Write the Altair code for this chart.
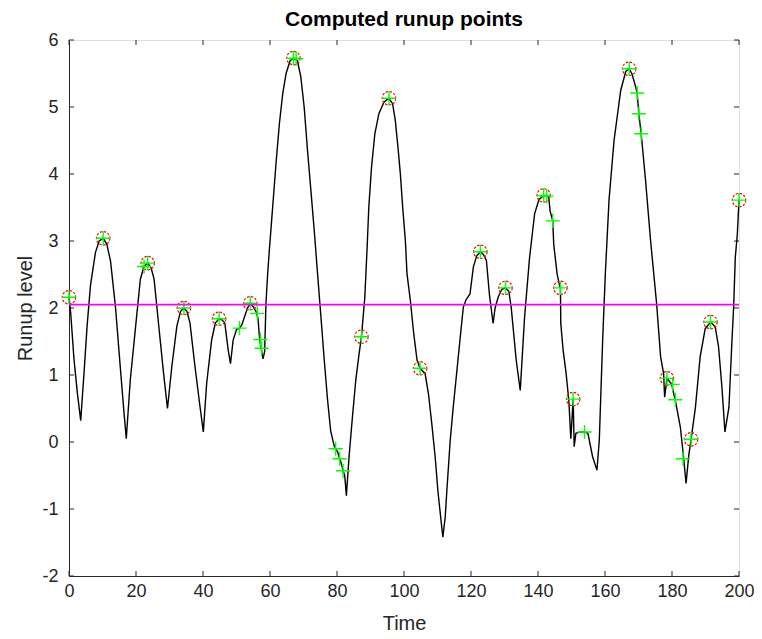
import altair as alt
import pandas as pd

# Black time series (Time, Runup level)
line_t = [0.0, 0.5, 1.5, 2.5, 3.5, 4.5, 5.4, 6.4, 7.9, 9.0, 10.2, 11.3, 12.4, 13.9, 15.4, 16.3, 17.1,
          18.3, 19.8, 21.3, 22.4, 23.5, 24.5, 25.4, 26.7, 28.2, 29.4, 30.7, 32.2, 33.3, 34.3, 35.2,
          36.1, 37.6, 39.1, 40.1, 41.1, 42.6, 43.7, 44.8, 45.7, 46.5, 47.5, 48.2, 49.0, 50.0, 50.9,
          51.6, 52.4, 53.3, 54.1, 55.0, 55.9, 56.4, 56.9, 57.4, 57.9, 58.4, 58.8, 59.3, 59.8, 60.8,
          61.8, 62.8, 63.8, 64.8, 66.0, 67.0, 68.2, 69.2, 70.2, 71.2, 72.2, 73.2, 74.2, 75.2, 76.2,
          77.2, 78.1, 79.1, 79.6, 80.2, 80.8, 81.3, 81.8, 82.3, 82.8, 83.6, 84.6, 85.6, 86.6, 87.3,
          88.3, 89.0, 89.5, 90.3, 91.3, 92.5, 94.0, 95.5, 96.6, 97.4, 98.2, 98.9, 99.6, 100.4, 100.9,
          101.9, 102.9, 103.9, 104.8, 106.3, 107.3, 108.3, 109.3, 110.1, 110.9, 111.6, 112.3, 112.8,
          113.8, 114.7, 115.7, 116.7, 117.7, 118.5, 119.7, 120.7, 121.7, 122.8, 123.7, 124.6, 125.5,
          126.6, 127.2, 128.1, 129.2, 130.3, 131.3, 132.0, 133.5, 134.7, 136.0, 137.5, 139.0, 140.3,
          141.7, 143.2, 143.6, 144.4, 144.7, 145.7, 146.5, 146.7, 146.8, 147.5, 148.4, 149.2, 149.8,
          150.5, 150.8, 151.3, 152.5, 154.0, 154.9, 156.3, 157.6, 158.3, 159.3, 160.1, 161.2, 162.7,
          164.7, 166.2, 167.2, 168.0, 168.6, 169.6, 170.1, 170.8, 172.1, 173.6, 175.4, 176.6, 177.5,
          177.8, 178.5, 179.3, 180.0, 180.6, 181.0, 182.5, 183.5, 184.2, 185.0, 185.7, 187.0, 188.4,
          189.9, 191.5, 192.9, 193.9, 194.9, 195.8, 197.0, 197.9, 198.4, 198.9, 199.5, 200.0]
line_y = [2.16, 1.93, 1.23, 0.73, 0.32, 1.04, 1.73, 2.33, 2.83, 3.00, 3.04, 2.95, 2.70, 2.00, 1.06, 0.51, 0.05,
          0.93, 1.68, 2.43, 2.62, 2.67, 2.60, 2.43, 1.78, 1.04, 0.50, 1.13, 1.73, 1.95, 2.00, 1.95,
          1.78, 1.13, 0.53, 0.15, 0.88, 1.53, 1.78, 1.84, 1.82, 1.78, 1.38, 1.17, 1.52, 1.68, 1.70,
          1.75, 1.87, 2.00, 2.07, 2.02, 1.94, 1.85, 1.54, 1.39, 1.24, 1.35, 2.07, 2.51, 2.86, 3.51,
          4.16, 4.75, 5.20, 5.50, 5.69, 5.73, 5.69, 5.45, 5.00, 4.35, 3.76, 3.16, 2.51, 1.87, 1.22,
          0.62, 0.17, -0.05, -0.10, -0.15, -0.25, -0.32, -0.43, -0.50, -0.80, -0.22, 0.37, 0.92, 1.32, 1.57,
          2.16, 2.91, 3.51, 4.10, 4.60, 4.90, 5.07, 5.13, 5.05, 4.80, 4.40, 4.01, 3.51, 3.01, 2.51,
          2.11, 1.62, 1.22, 1.10, 1.02, 0.72, 0.27, -0.22, -0.72, -1.10, -1.42, -1.12, -0.72,
          0.03, 0.52, 1.02, 1.52, 2.01, 2.12, 2.21, 2.61, 2.78, 2.84, 2.80, 2.71, 2.20,
          1.77, 2.00, 2.16, 2.28, 2.30, 2.25, 2.01, 1.22, 0.77, 1.87, 2.76, 3.41, 3.62,
          3.68, 3.66, 3.45, 3.30, 2.95, 2.51, 2.32, 2.30, 1.77, 1.37, 1.02, 0.62, 0.05,
          0.64, -0.07, 0.13, 0.15, 0.15, 0.13, -0.22, -0.42, 0.03, 1.52, 2.51, 3.61, 4.50,
          5.25, 5.53, 5.57, 5.50, 5.40, 5.21, 4.90, 4.60, 3.91, 3.01, 2.07, 1.27, 1.02,
          0.67, 0.95, 0.90, 0.84, 0.70, 0.62, 0.22, -0.25, -0.62, -0.20, 0.04, 0.52, 1.27,
          1.69, 1.79, 1.72, 1.42, 0.82, 0.15, 0.52, 1.52, 2.01, 2.76, 3.10, 3.61]

# Computed runup points (red circles)
runup_t = [0.0, 10.2, 23.5, 34.3, 44.8, 54.1, 67.0, 87.3, 95.5, 104.8, 122.8, 130.3, 141.7, 146.7,
           150.5, 167.2, 178.5, 185.7, 191.5, 200.0]
runup_y = [2.16, 3.04, 2.67, 2.00, 1.84, 2.07, 5.73, 1.57, 5.13, 1.10, 2.84, 2.30, 3.68, 2.30,
           0.64, 5.57, 0.95, 0.04, 1.79, 3.61]

# Candidate points (green plus)
cand_t = runup_t + [22.4, 50.9, 56.2, 57.1, 57.5, 67.8, 79.6, 80.8, 81.8, 142.6, 144.4, 153.9,
                    169.6, 170.1, 170.8, 180.2, 181.0, 183.3]
cand_y = runup_y + [2.62, 1.70, 1.92, 1.53, 1.40, 5.72, -0.10, -0.25, -0.43, 3.67, 3.30, 0.15,
                    5.21, 4.90, 4.60, 0.86, 0.63, -0.25]

threshold = [2.05]
x_ticks = [0, 20, 40, 60, 80, 100, 120, 140, 160, 180, 200]
y_ticks = [-2, -1, 0, 1, 2, 3, 4, 5, 6]

W, H = 670, 536
AX = "#262626"
FONT = "Liberation Sans"

line_df = pd.DataFrame({"t": line_t, "y": line_y})
runup_df = pd.DataFrame({"t": runup_t, "y": runup_y})
cand_df = pd.DataFrame({"t": cand_t, "y": cand_y})
thr_df = pd.DataFrame({"y": threshold})
xt_df = pd.DataFrame({"t": x_ticks})
yt_df = pd.DataFrame({"y": y_ticks})

xscale = alt.Scale(domain=[0, 200], nice=False, zero=False)
yscale = alt.Scale(domain=[-2, 6], nice=False, zero=False)

xaxis = alt.Axis(values=x_ticks, title="Time", grid=False, ticks=False, tickSize=0,
                 labelExpr="'' + datum.value",
                 labelPadding=6, titleX=W / 2, titleY=47, titleBaseline="middle", titleAlign="center",
                 domainColor=AX, labelColor=AX, titleColor=AX,
                 labelFontSize=18, titleFontSize=20, labelFont=FONT, titleFont=FONT,
                 titleFontWeight="normal", labelFlush=False)
yaxis = alt.Axis(values=y_ticks, title="Runup level", grid=False, ticks=False, tickSize=0,
                 labelExpr="'' + datum.value",
                 labelPadding=11, titleX=-44, titleY=H / 2, titleAngle=270, titleBaseline="middle",
                 titleAlign="center",
                 domainColor=AX, labelColor=AX, titleColor=AX,
                 labelFontSize=18, titleFontSize=20, labelFont=FONT, titleFont=FONT,
                 titleFontWeight="normal", labelFlush=False)

line = alt.Chart(line_df).mark_line(color="black", strokeWidth=1.4).encode(
    x=alt.X("t:Q", scale=xscale, axis=xaxis),
    y=alt.Y("y:Q", scale=yscale, axis=yaxis),
    order="t:Q",
)

circles = alt.Chart(runup_df).mark_point(
    shape="circle", size=180, filled=False, color="red", strokeWidth=1.2, strokeDash=[2.5, 1.5], opacity=1
).encode(x=alt.X("t:Q", scale=xscale), y=alt.Y("y:Q", scale=yscale))

plus_path = "M -1 0 L 1 0 M 0 -1 L 0 1"
pluses = alt.Chart(cand_df).mark_point(
    shape=plus_path, size=200, filled=False, color="#00ff00", strokeWidth=1.4, opacity=1
).encode(x=alt.X("t:Q", scale=xscale), y=alt.Y("y:Q", scale=yscale))

thr = alt.Chart(thr_df).mark_rule(color="#ff00ff", strokeWidth=1.6).encode(
    y=alt.Y("y:Q", scale=yscale)
)

tl = 5
bottom_ticks = alt.Chart(xt_df).mark_rule(color=AX, strokeWidth=1).encode(
    x=alt.X("t:Q", scale=xscale), y=alt.value(H), y2=alt.value(H - tl))
top_ticks = alt.Chart(xt_df).mark_rule(color=AX, strokeWidth=1).encode(
    x=alt.X("t:Q", scale=xscale), y=alt.value(0), y2=alt.value(tl))
left_ticks = alt.Chart(yt_df).mark_rule(color=AX, strokeWidth=1).encode(
    y=alt.Y("y:Q", scale=yscale), x=alt.value(0), x2=alt.value(tl))
right_ticks = alt.Chart(yt_df).mark_rule(color=AX, strokeWidth=1).encode(
    y=alt.Y("y:Q", scale=yscale), x=alt.value(W), x2=alt.value(W - tl))

chart = alt.layer(
    bottom_ticks, top_ticks, left_ticks, right_ticks, line, circles, pluses, thr
).properties(
    width=W, height=H,
    title=alt.TitleParams("Computed runup points", font=FONT, fontSize=21, fontWeight="bold",
                          color="black", anchor="middle", frame="group", orient="top", offset=1),
    autosize=alt.AutoSizeParams(type="none"),
    padding={"left": 61, "top": 32, "right": 15, "bottom": 62},
).configure_view(stroke=AX, strokeWidth=1).configure(background="white")

chart.save("out.html", embed_options={"renderer": "svg", "actions": False})
